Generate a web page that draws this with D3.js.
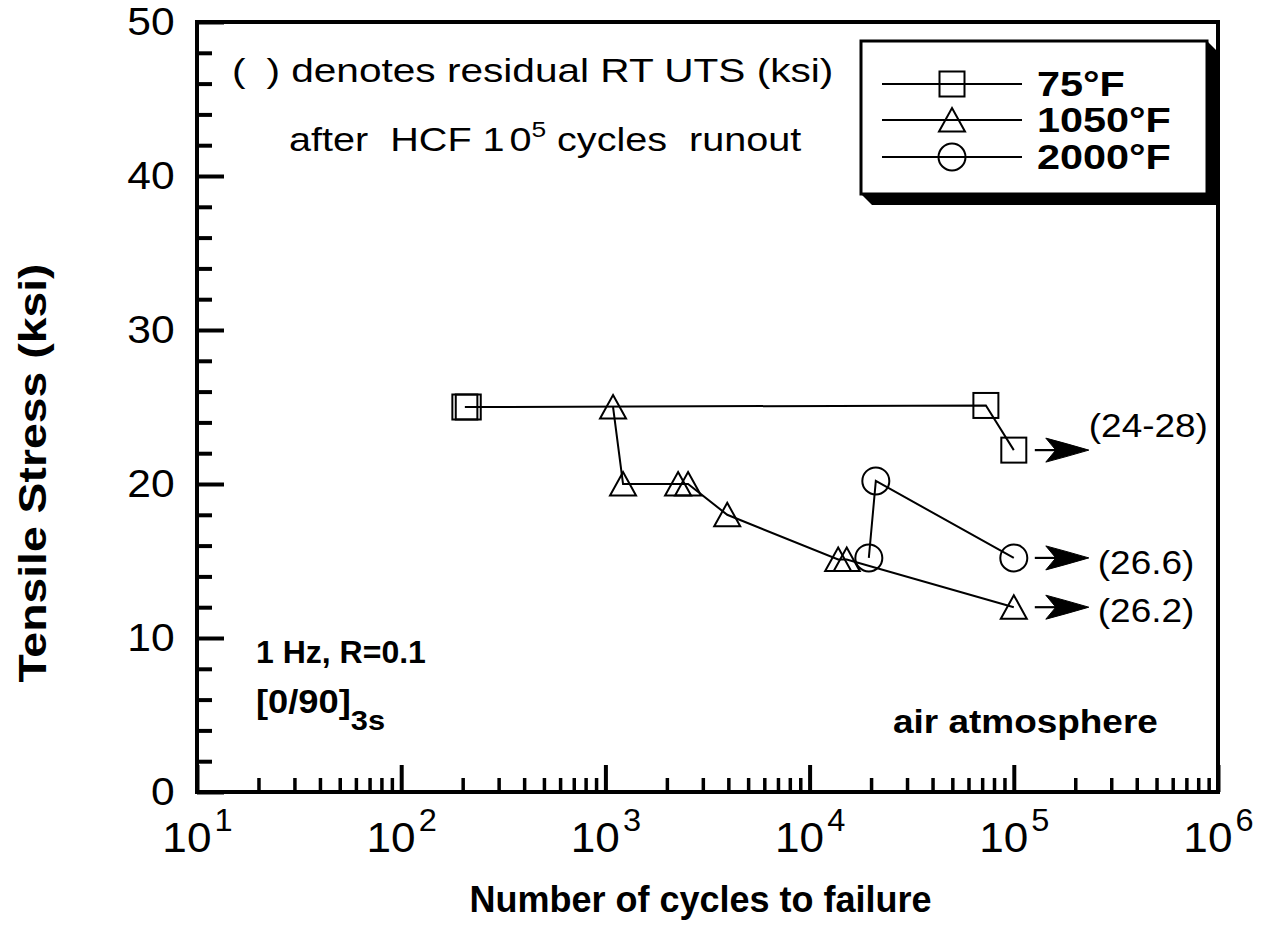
<!DOCTYPE html>
<html>
<head>
<meta charset="utf-8">
<script src="https://cdn.jsdelivr.net/npm/d3@7"></script>
<style>
  body { margin: 0; background: #fff; }
  svg { display: block; font-family: "Liberation Sans", Arial, Helvetica, sans-serif; }
</style>
</head>
<body>
<svg id="chart" width="1266" height="941"></svg>
<script>
// ---- data -------------------------------------------------------------
// 75°F
const cycles75 = [205, 213, 73000, 100000];
const stress75 = [25, 25, 25.1, 22.2];
// 1050°F
const cycles1050 = [1090, 1220, 2270, 2540, 3950, 13800, 15200, 100000];
const stress1050 = [25, 20, 20, 20, 18, 15.1, 15.1, 12];
// 2000°F
const cycles2000 = [19500, 21100, 100000];
const stress2000 = [15.2, 20.2, 15.2];

// runouts at 10^5 cycles and their residual RT UTS (ksi)
const runoutCycles = [100000, 100000, 100000];
const runoutStress = [22.2, 15.2, 12];
const runoutLabels = ["(24-28)", "(26.6)", "(26.2)"];

const legendLabels = ["75°F", "1050°F", "2000°F"];
const legendSymbols = ["square", "triangle", "circle"];

const yTickValues = [0, 10, 20, 30, 40, 50];
const xDecades = [1e1, 1e2, 1e3, 1e4, 1e5, 1e6];
const xExponents = ["1", "2", "3", "4", "5", "6"];

// ---- layout -----------------------------------------------------------
const svg = d3.select("#chart");
const P = { left: 197, top: 22, right: 1218, bottom: 792 };
const SX = 1.12;   // glyphs in this figure are set slightly wide

const x = d3.scaleLog().domain([1e1, 1e6]).range([P.left, P.right]);
const y = d3.scaleLinear().domain([0, 50]).range([P.bottom, P.top]);

function wideText(parent, px, py, str, size, weight, sx) {
  return parent.append("text")
    .attr("transform", `translate(${px},${py}) scale(${sx || SX},1)`)
    .attr("font-size", size)
    .attr("font-weight", weight || "normal")
    .attr("fill", "#000")
    .text(str);
}

// ---- axes (ticks point inward) ---------------------------------------
const minorY = d3.range(0, 51, 2).filter(v => v % 10 !== 0);
svg.append("g")
  .attr("transform", `translate(${P.left},0)`)
  .call(d3.axisLeft(y).tickValues(minorY).tickSize(-15).tickFormat(""))
  .call(g => g.select(".domain").remove())
  .call(g => g.selectAll("line").attr("stroke", "#000").attr("stroke-width", 4));

svg.append("g")
  .attr("transform", `translate(${P.left},0)`)
  .call(d3.axisLeft(y).tickValues(yTickValues).tickSize(-27).tickPadding(20).tickFormat(d3.format("d")))
  .call(g => g.select(".domain").remove())
  .call(g => g.selectAll("line").attr("stroke", "#000").attr("stroke-width", 4))
  .call(g => g.selectAll("text")
      .attr("font-size", 38)
      .attr("font-family", "Liberation Sans, Arial, sans-serif")
      .attr("fill", "#000")
      .attr("transform", `scale(${SX},1)`));

const minorX = x.ticks().filter(v => !xDecades.includes(v));
svg.append("g")
  .attr("transform", `translate(0,${P.bottom})`)
  .call(d3.axisBottom(x).tickValues(minorX).tickSize(-14).tickFormat(""))
  .call(g => g.select(".domain").remove())
  .call(g => g.selectAll("line").attr("stroke", "#000").attr("stroke-width", 3.5));

const xMajor = svg.append("g")
  .attr("transform", `translate(0,${P.bottom})`)
  .call(d3.axisBottom(x).tickValues(xDecades).tickSize(-27).tickFormat(""))
  .call(g => g.select(".domain").remove())
  .call(g => g.selectAll("line").attr("stroke", "#000").attr("stroke-width", 4));

xMajor.selectAll(".tick").each(function (d, i) {
  const t = d3.select(this).append("text")
    .attr("y", 60)
    .attr("text-anchor", "middle")
    .attr("fill", "#000")
    .attr("font-size", 42)
    .attr("transform", `scale(1.05,1)`);
  t.append("tspan").text("10");
  t.append("tspan").attr("dy", -21).attr("dx", 3).attr("font-size", 31).text(xExponents[i]);
});

// plot frame
svg.append("rect")
  .attr("x", P.left).attr("y", P.top)
  .attr("width", P.right - P.left).attr("height", P.bottom - P.top)
  .attr("fill", "none").attr("stroke", "#000").attr("stroke-width", 4);

// ---- axis titles ------------------------------------------------------
svg.append("text")
  .attr("transform", `translate(${(P.left + P.right) / 2 - 7},${912})`)
  .attr("text-anchor", "middle").attr("font-size", 36).attr("font-weight", "bold")
  .text("Number of cycles to failure");

svg.append("text")
  .attr("transform", `translate(46,${(P.top + P.bottom) / 2 + 66}) rotate(-90) scale(1.22,1)`)
  .attr("text-anchor", "middle").attr("font-size", 38).attr("font-weight", "bold")
  .text("Tensile Stress (ksi)");

// ---- series -----------------------------------------------------------
const line = d3.line().x(d => x(d[0])).y(d => y(d[1]));
const zip = (a, b) => a.map((v, i) => [v, b[i]]);

const series = [
  { pts: zip(cycles75, stress75), sym: "square" },
  { pts: zip(cycles1050, stress1050), sym: "triangle" },
  { pts: zip(cycles2000, stress2000), sym: "circle" }
];

function drawSymbol(g, sym, cx, cy) {
  if (sym === "square") {
    g.append("rect").attr("x", cx - 12.5).attr("y", cy - 12.5)
      .attr("width", 25).attr("height", 25);
  } else if (sym === "triangle") {
    g.append("path").attr("d", `M${cx},${cy - 12} L${cx + 13},${cy + 11.5} L${cx - 13},${cy + 11.5} Z`);
  } else {
    g.append("circle").attr("cx", cx).attr("cy", cy).attr("r", 13.5);
  }
}

const dataG = svg.append("g");
series.forEach(s => {
  dataG.append("path").datum(s.pts).attr("d", line)
    .attr("fill", "none").attr("stroke", "#000").attr("stroke-width", 2);
  const mg = dataG.append("g").attr("fill", "none").attr("stroke", "#000").attr("stroke-width", 2);
  s.pts.forEach(p => drawSymbol(mg, s.sym, x(p[0]), y(p[1])));
});

// ---- runout arrows ----------------------------------------------------
const labelOffsets = [[0, -13], [9, 16], [9, 15]];
runoutCycles.forEach((c, i) => {
  const px = x(c), py = y(runoutStress[i]);
  const x0 = px + 21, tip = px + 75;
  svg.append("line").attr("x1", x0).attr("y1", py).attr("x2", tip - 30).attr("y2", py)
    .attr("stroke", "#000").attr("stroke-width", 2.2);
  svg.append("path")
    .attr("d", `M${tip},${py} Q${tip - 24},${py - 7} ${tip - 43},${py - 12} L${tip - 33},${py} L${tip - 43},${py + 12} Q${tip - 24},${py + 7} ${tip},${py} Z`)
    .attr("fill", "#000").attr("stroke", "#000").attr("stroke-width", 1);
  wideText(svg, tip + labelOffsets[i][0], py + labelOffsets[i][1], runoutLabels[i], 33);
});

// ---- annotations ------------------------------------------------------
const note1 = svg.append("text")
  .attr("transform", `translate(232,82) scale(1.23,1)`)
  .attr("font-size", 33);
note1.append("tspan").text("(");
note1.append("tspan").attr("dx", 17).text(")");
note1.append("tspan").text(" denotes residual RT UTS (ksi)");

const note2 = svg.append("text")
  .attr("transform", `translate(289,151) scale(1.2,1)`)
  .attr("font-size", 33)
  .attr("xml:space", "preserve");
note2.append("tspan").text("after  HCF 1");
note2.append("tspan").attr("dx", 4).text("0");
note2.append("tspan").attr("dy", -14).attr("font-size", 22).text("5");
note2.append("tspan").attr("dy", 14).text(" cycles  runout");

wideText(svg, 256, 663, "1 Hz, R=0.1", 32, "bold", 1.0);
const lay = svg.append("text")
  .attr("transform", `translate(256,713) scale(1.1,1)`)
  .attr("font-size", 33).attr("font-weight", "bold");
lay.append("tspan").text("[0/90]");
lay.append("tspan").attr("dy", 17).attr("font-size", 28).text("3s");

wideText(svg, 893, 733, "air atmosphere", 33, "bold");

// ---- legend -----------------------------------------------------------
const L = { x: 861, y: 41, w: 346, h: 153, s: 11 };
svg.append("polygon")
  .attr("points", [
    [L.x + L.w, L.y], [L.x + L.w + L.s, L.y + L.s], [L.x + L.w + L.s, L.y + L.h + L.s],
    [L.x + L.s, L.y + L.h + L.s], [L.x, L.y + L.h]
  ].map(p => p.join(",")).join(" "))
  .attr("fill", "#000");
svg.append("rect").attr("x", L.x).attr("y", L.y).attr("width", L.w).attr("height", L.h)
  .attr("fill", "#fff").attr("stroke", "#000").attr("stroke-width", 3);

const rowY = [84, 120, 157];
legendLabels.forEach((lab, i) => {
  svg.append("line").attr("x1", 882).attr("x2", 1022).attr("y1", rowY[i]).attr("y2", rowY[i])
    .attr("stroke", "#000").attr("stroke-width", 2);
  const g = svg.append("g").attr("fill", "none").attr("stroke", "#000").attr("stroke-width", 2);
  drawSymbol(g, legendSymbols[i], 952, rowY[i]);
  wideText(svg, 1037, rowY[i] + 12, lab, 36, "bold", 1.15);
});
</script>
</body>
</html>
